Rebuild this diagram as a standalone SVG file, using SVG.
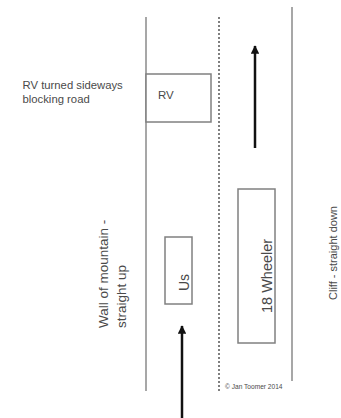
<svg xmlns="http://www.w3.org/2000/svg" width="341" height="418" viewBox="0 0 341 418">
<style>
.ln{stroke:#8a8a8a;stroke-width:1.5;fill:none}
.box{stroke:#808080;stroke-width:1.5;fill:#fff}
.dot{stroke:#555;stroke-width:1.5;stroke-dasharray:2 2;fill:none}
.arr{stroke:#111;stroke-width:2.5;fill:none}
text{font-family:"Liberation Sans",Arial,sans-serif;fill:#4a4a4a}
</style>
<defs>
<marker id="ah" viewBox="0 0 10 10" refX="9" refY="5" markerWidth="4" markerHeight="3.4" orient="auto" markerUnits="strokeWidth">
<path d="M0,0 L10,5 L0,10 Z" fill="#111"/>
</marker>
</defs>
<rect width="341" height="418" fill="#fff"/>
<g id="road">
<line class="ln" x1="146" y1="17" x2="146" y2="391"/>
<line class="dot" x1="219" y1="17" x2="219" y2="392"/>
<line class="ln" x1="292" y1="7" x2="292" y2="381"/>
</g>
<g id="rv">
<rect class="box" x="146" y="74" width="65" height="48"/>
<text x="158" y="99" font-size="11.5">RV</text>
</g>
<g id="rv-label">
<text x="22.5" y="89" font-size="11.3">RV turned sideways</text>
<text x="22.5" y="103" font-size="11.3">blocking road</text>
</g>
<g id="us">
<rect class="box" x="165" y="237" width="27" height="67"/>
<text transform="translate(189,291) rotate(-90)" font-size="14">Us</text>
</g>
<g id="wheeler">
<rect class="box" x="238" y="189" width="37" height="154"/>
<text transform="translate(272,313) rotate(-90)" font-size="14.5">18 Wheeler</text>
</g>
<g id="wall-label">
<text transform="translate(108,328) rotate(-90)" font-size="13.5">Wall of mountain -</text>
<text transform="translate(126,328) rotate(-90)" font-size="13.5">straight up</text>
</g>
<g id="cliff-label">
<text transform="translate(337,300) rotate(-90)" font-size="11">Cliff - straight down</text>
</g>
<g id="copyright">
<text x="225" y="389" font-size="6.6">© Jan Toomer 2014</text>
</g>
<g id="connectors">
<line class="arr" x1="255" y1="148" x2="255" y2="46" marker-end="url(#ah)"/>
<line class="arr" x1="182" y1="418" x2="182" y2="326" marker-end="url(#ah)"/>
</g>
</svg>
